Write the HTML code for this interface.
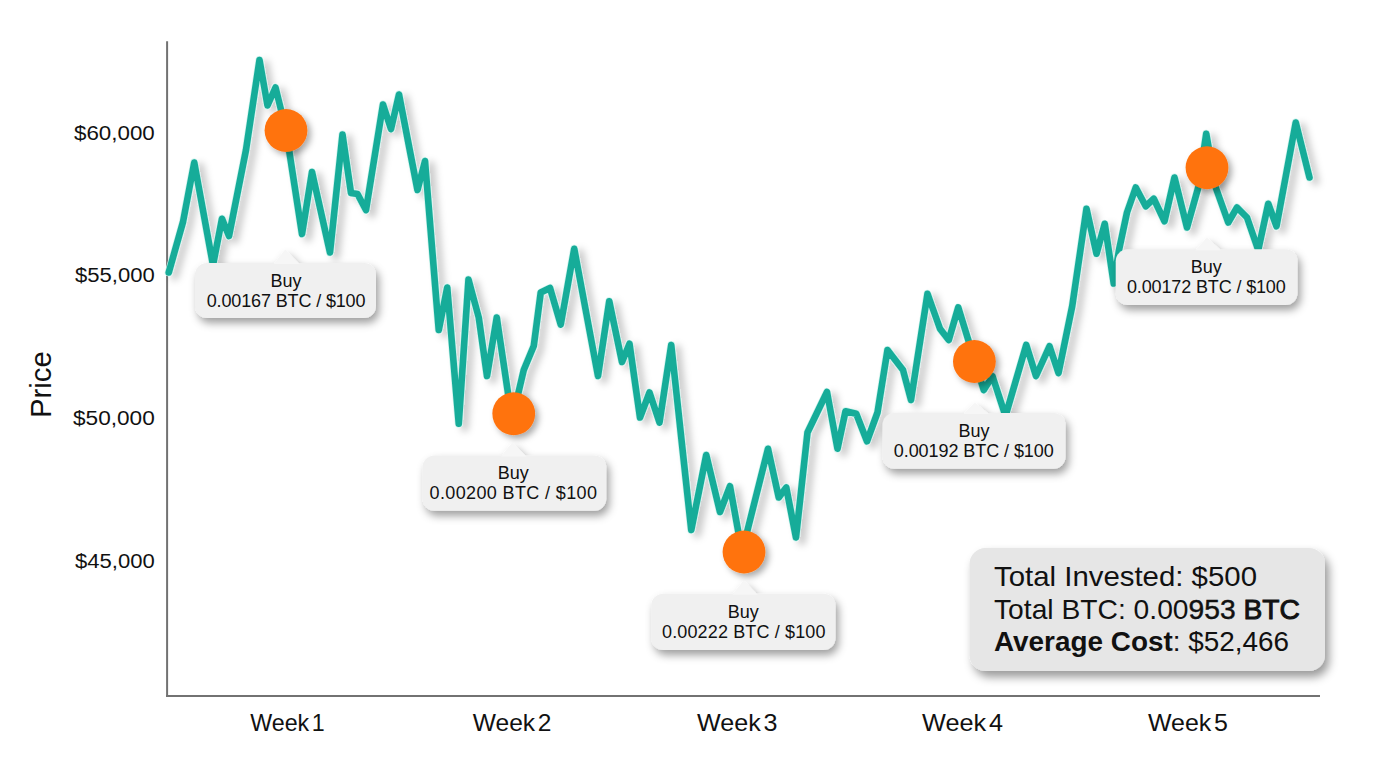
<!DOCTYPE html>
<html><head><meta charset="utf-8"><title>DCA chart</title>
<style>
html,body{margin:0;padding:0;background:#fff;}
body{width:1376px;height:768px;overflow:hidden;}
svg{display:block;font-family:"Liberation Sans",sans-serif;fill:#111;}
</style></head><body>
<svg width="1376" height="768" viewBox="0 0 1376 768">
<defs>
<filter id="ls" x="-5%" y="-5%" width="110%" height="115%"><feDropShadow dx="6" dy="4" stdDeviation="3.5" flood-color="#000" flood-opacity="0.2"/></filter>
<filter id="ds" x="-30%" y="-30%" width="170%" height="170%"><feDropShadow dx="3.5" dy="3.5" stdDeviation="3.4" flood-color="#000" flood-opacity="0.33"/></filter>
<filter id="ts" x="-15%" y="-30%" width="130%" height="180%"><feDropShadow dx="3" dy="5" stdDeviation="4" flood-color="#000" flood-opacity="0.38"/></filter>
<filter id="ss" x="-10%" y="-20%" width="120%" height="150%"><feDropShadow dx="4" dy="6" stdDeviation="5" flood-color="#000" flood-opacity="0.4"/></filter>
</defs>
<rect width="1376" height="768" fill="#ffffff"/>
<path d="M167.1 41.2 V696.9" fill="none" stroke="#727272" stroke-width="2"/>
<path d="M166.1 695.95 H1320" fill="none" stroke="#727272" stroke-width="1.9"/>
<g filter="url(#ls)"><polyline points="168.75,272.5 183,222 194.25,162.5 213,265 222,218.75 229,236 246,150 259.5,60 267.5,105.5 275.5,87.5 286,130 302,234 312,172 330,252.5 342.5,134.5 351,193 357.5,194 366,210 383,104.5 391,129 399,94.5 417.5,190 425,161 438.75,330 447.25,287.5 458.75,423.75 468.5,279.5 478.75,317.5 487,376 496.75,317.5 512,420 523.75,370 533.75,346 540.75,292.5 550,288 560.75,324.5 574.25,248.75 598,376 609.25,301.25 622,362 629.5,343.75 640,417.5 649.5,392.5 659.5,422.5 671.25,345 691.25,530 706.25,455 720,512 730,486.25 742,552 768,448.75 778.75,497.5 786.25,487.5 796,537.5 807.5,432.5 827,392 837.5,448.75 845.5,411.25 856.25,413.75 867,441.25 877.5,412.5 887.5,350 903,370 911,400 927.5,293.75 940,328.75 948.75,340 958.25,307.5 983.75,390 992.5,376.25 1005.5,416 1026.25,345 1036,376 1049.5,346.25 1058.5,373 1072.25,306 1086.5,208.75 1096.5,253.75 1104.75,223.75 1113.75,283.5 1119,250 1127,212.5 1135.75,187.5 1145.75,206.25 1153.75,198.75 1164.5,221.25 1174.5,177.5 1187,227.5 1198.25,187.5 1206.25,133.75 1215.75,187.5 1228.25,222.5 1237,207.5 1247,217.5 1258.25,250 1268.25,203.75 1276.5,226.25 1295.75,122.5 1309.5,177.5" fill="none" stroke="#cdf2ec" stroke-width="8.0" stroke-linejoin="round" stroke-linecap="round"/><polyline points="168.75,272.5 183,222 194.25,162.5 213,265 222,218.75 229,236 246,150 259.5,60 267.5,105.5 275.5,87.5 286,130 302,234 312,172 330,252.5 342.5,134.5 351,193 357.5,194 366,210 383,104.5 391,129 399,94.5 417.5,190 425,161 438.75,330 447.25,287.5 458.75,423.75 468.5,279.5 478.75,317.5 487,376 496.75,317.5 512,420 523.75,370 533.75,346 540.75,292.5 550,288 560.75,324.5 574.25,248.75 598,376 609.25,301.25 622,362 629.5,343.75 640,417.5 649.5,392.5 659.5,422.5 671.25,345 691.25,530 706.25,455 720,512 730,486.25 742,552 768,448.75 778.75,497.5 786.25,487.5 796,537.5 807.5,432.5 827,392 837.5,448.75 845.5,411.25 856.25,413.75 867,441.25 877.5,412.5 887.5,350 903,370 911,400 927.5,293.75 940,328.75 948.75,340 958.25,307.5 983.75,390 992.5,376.25 1005.5,416 1026.25,345 1036,376 1049.5,346.25 1058.5,373 1072.25,306 1086.5,208.75 1096.5,253.75 1104.75,223.75 1113.75,283.5 1119,250 1127,212.5 1135.75,187.5 1145.75,206.25 1153.75,198.75 1164.5,221.25 1174.5,177.5 1187,227.5 1198.25,187.5 1206.25,133.75 1215.75,187.5 1228.25,222.5 1237,207.5 1247,217.5 1258.25,250 1268.25,203.75 1276.5,226.25 1295.75,122.5 1309.5,177.5" fill="none" stroke="#16ac99" stroke-width="6.6" stroke-linejoin="round" stroke-linecap="round"/></g>
<circle filter="url(#ds)" cx="286" cy="130.5" r="21.4" fill="#ff730f"/>
<circle filter="url(#ds)" cx="513.75" cy="413.75" r="21.4" fill="#ff730f"/>
<circle filter="url(#ds)" cx="744" cy="552" r="21.4" fill="#ff730f"/>
<circle filter="url(#ds)" cx="974.4" cy="361.5" r="21.4" fill="#ff730f"/>
<circle filter="url(#ds)" cx="1207" cy="167.75" r="21.4" fill="#ff730f"/>
<g filter="url(#ts)"><rect x="195" y="263.05" width="181" height="54.94999999999999" rx="12" fill="#f0f0f0"/><path d="M273.9 264.05 L284.4 250.4 Q285.4 249.4 286.4 250.4 L299.4 264.05 Z" fill="#f6f6f6"/></g>
<text x="286" y="286.5" font-size="18" text-anchor="middle">Buy</text>
<text x="206.75" y="307" font-size="18" textLength="158.75" lengthAdjust="spacing">0.00167 BTC / $100</text>
<g filter="url(#ts)"><rect x="422.5" y="455.55" width="183.75" height="55.19999999999999" rx="12" fill="#f0f0f0"/><path d="M501.0 456.55 L511.5 443.5 Q512.5 442.5 513.5 443.5 L526.5 456.55 Z" fill="#f6f6f6"/></g>
<text x="513.25" y="478.75" font-size="18" text-anchor="middle">Buy</text>
<text x="429.5" y="499.25" font-size="18" textLength="167.5" lengthAdjust="spacing">0.00200 BTC / $100</text>
<g filter="url(#ts)"><rect x="651.25" y="593.8" width="184.25" height="56.200000000000045" rx="12" fill="#f0f0f0"/><path d="M732.3 594.8 L742.8 581.4 Q743.8 580.4 744.8 581.4 L757.8 594.8 Z" fill="#f6f6f6"/></g>
<text x="743.25" y="617.5" font-size="18" text-anchor="middle">Buy</text>
<text x="662" y="638" font-size="18" textLength="163.5" lengthAdjust="spacing">0.00222 BTC / $100</text>
<g filter="url(#ts)"><rect x="882.5" y="413.05" width="183.0" height="55.69999999999999" rx="12" fill="#f0f0f0"/><path d="M963.5 414.05 L974 403.5 Q975 402.5 976 403.5 L989 414.05 Z" fill="#f6f6f6"/></g>
<text x="974" y="436.75" font-size="18" text-anchor="middle">Buy</text>
<text x="893.75" y="456.75" font-size="18" textLength="160.0" lengthAdjust="spacing">0.00192 BTC / $100</text>
<g filter="url(#ts)"><rect x="1115.75" y="249.3" width="181.75" height="55.69999999999999" rx="12" fill="#f0f0f0"/><path d="M1195.5 250.3 L1206 238.5 Q1207 237.5 1208 238.5 L1221 250.3 Z" fill="#f6f6f6"/></g>
<text x="1206.25" y="273.0" font-size="18" text-anchor="middle">Buy</text>
<text x="1127" y="293.25" font-size="18" textLength="158.75" lengthAdjust="spacing">0.00172 BTC / $100</text>
<text x="74" y="139.9" font-size="19.5" textLength="80.80000000000001" lengthAdjust="spacingAndGlyphs">$60,000</text>
<text x="75" y="282.2" font-size="19.5" textLength="79.80000000000001" lengthAdjust="spacingAndGlyphs">$55,000</text>
<text x="73" y="425.2" font-size="19.5" textLength="81.80000000000001" lengthAdjust="spacingAndGlyphs">$50,000</text>
<text x="75" y="568.3" font-size="19.5" textLength="79.80000000000001" lengthAdjust="spacingAndGlyphs">$45,000</text>
<text transform="translate(51.3 418.1) rotate(-90)" font-size="29" textLength="67" lengthAdjust="spacingAndGlyphs">Price</text>
<text x="250.25" y="730.5" font-size="24" word-spacing="-4" textLength="74.5" lengthAdjust="spacingAndGlyphs">Week 1</text>
<text x="472.75" y="730.5" font-size="24" word-spacing="-4" textLength="78.75" lengthAdjust="spacingAndGlyphs">Week 2</text>
<text x="697" y="730.5" font-size="24" word-spacing="-4" textLength="80.5" lengthAdjust="spacingAndGlyphs">Week 3</text>
<text x="922" y="730.5" font-size="24" word-spacing="-4" textLength="81" lengthAdjust="spacingAndGlyphs">Week 4</text>
<text x="1148" y="730.5" font-size="24" word-spacing="-4" textLength="80" lengthAdjust="spacingAndGlyphs">Week 5</text>
<rect filter="url(#ss)" x="969.5" y="548" width="355.5" height="123" rx="16" fill="#e6e6e6"/>
<text x="994" y="586.25" font-size="27.2" textLength="263" lengthAdjust="spacingAndGlyphs">Total Invested: $500</text>
<text x="994" y="618.75" font-size="27.2" textLength="306" lengthAdjust="spacingAndGlyphs">Total BTC: 0.00<tspan stroke="#111" stroke-width="0.45">953</tspan> <tspan stroke="#111" stroke-width="0.9">BTC</tspan></text>
<text x="994" y="651.3" font-size="27.2" textLength="295" lengthAdjust="spacingAndGlyphs"><tspan font-weight="bold">Average Cost</tspan>: $52,466</text>
</svg></body></html>
